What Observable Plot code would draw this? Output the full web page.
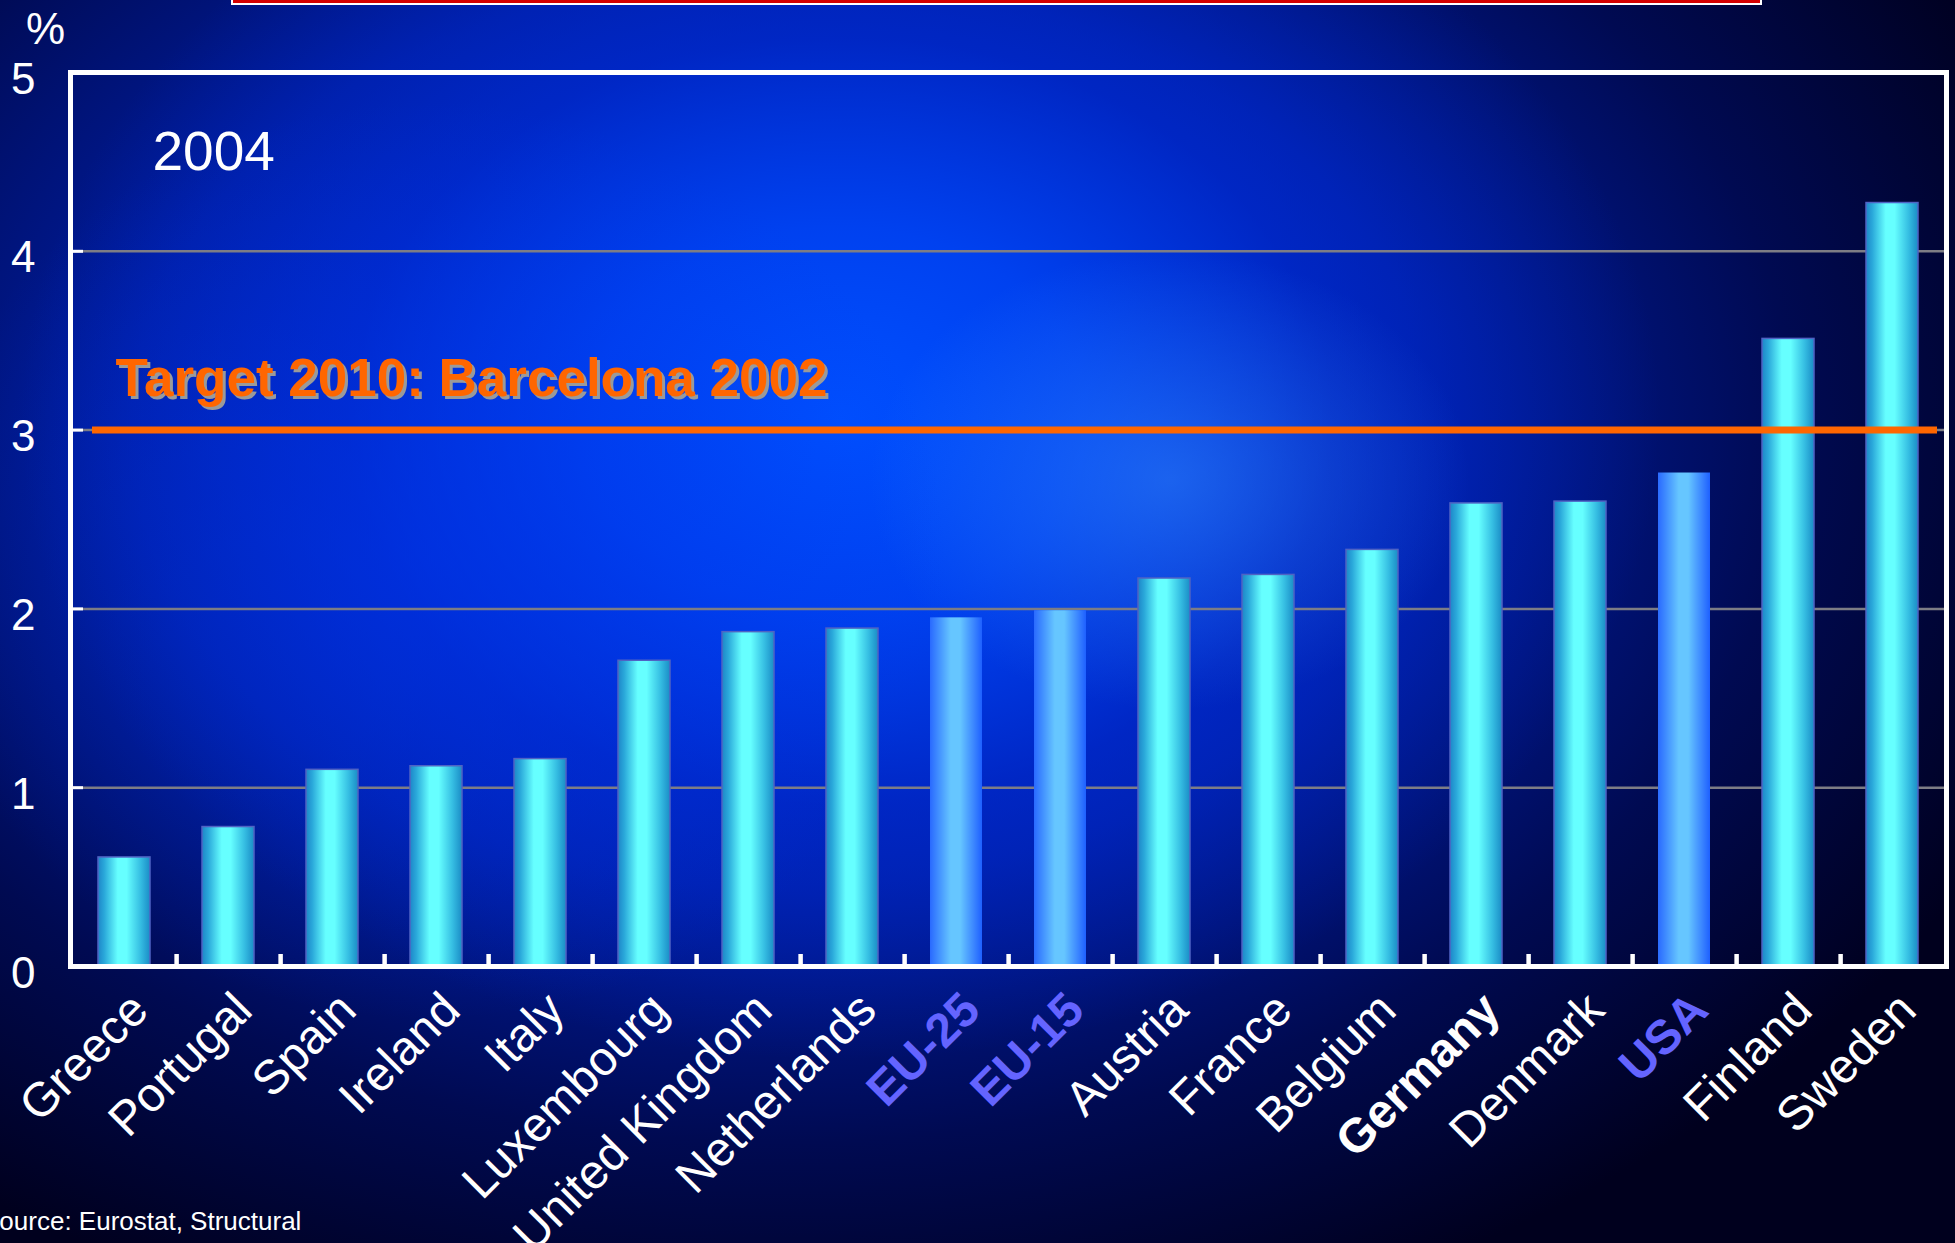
<!DOCTYPE html>
<html>
<head>
<meta charset="utf-8">
<script src="https://cdn.jsdelivr.net/npm/d3@7"></script>
<script src="https://cdn.jsdelivr.net/npm/@observablehq/plot@0.6"></script>
<style>
html, body { margin: 0; padding: 0; width: 1955px; height: 1243px; overflow: hidden; }
body {
  position: relative;
  font-family: "Liberation Sans", Arial, sans-serif;
  background:
    radial-gradient(ellipse 300px 230px at 1170px 480px, rgba(60,150,255,0.45), rgba(60,150,255,0) 100%),
    radial-gradient(ellipse 520px 460px at 430px 560px, rgba(0,52,235,0.55), rgba(0,52,235,0) 100%),
    radial-gradient(ellipse 820px 640px at 840px 420px, rgba(0,80,255,1) 0%, rgba(0,68,245,0.9) 30%, rgba(0,45,220,0.55) 60%, rgba(0,40,200,0) 100%),
    radial-gradient(ellipse 1350px 950px at 780px 430px, #0030d8 0%, #001c9e 48%, #000a52 75%, #00001e 100%);
}
#titlebox { position: absolute; left: 231px; top: -20px; width: 1527px; height: 21px; background: #d40000; border: 2.5px solid #fff; }
#chart { position: absolute; left: 0; top: 0; }
#caption { position: absolute; left: -18px; top: 1206px; font-size: 26px; color: #fff; white-space: nowrap; }
</style>
</head>
<body>
<div id="titlebox"></div>
<div id="chart"></div>
<div id="caption">Source: Eurostat, Structural</div>
<script>
const categories = ["Greece","Portugal","Spain","Ireland","Italy","Luxembourg","United Kingdom","Netherlands","EU-25","EU-15","Austria","France","Belgium","Germany","Denmark","USA","Finland","Sweden"];
const values = [0.61,0.78,1.10,1.12,1.16,1.71,1.87,1.89,1.95,1.99,2.17,2.19,2.33,2.59,2.60,2.76,3.51,4.27];
const aggregates = ["EU-25","EU-15","USA"];
const boldCountries = ["Germany"];
const yTicks = [0,1,2,3,4,5];
const gridValues = [1,2,3,4];
const targetValue = 3;
const targetLabel = "Target 2010: Barcelona 2002";
const yearLabel = "2004";
const unitLabel = "%";

const W = 1955, H = 1243;
const mL = 70, mR = 9, mT = 72, mB = 277;
const step = (W - mL - mR) / categories.length;

const data = categories.map((c, i) => ({country: c, value: values[i], agg: aggregates.includes(c), bold: boldCountries.includes(c)}));

const NS = "http://www.w3.org/2000/svg";
function makeGrad(id, stops) {
  const g = document.createElementNS(NS, "linearGradient");
  g.setAttribute("id", id);
  g.setAttribute("x1", "0"); g.setAttribute("x2", "1"); g.setAttribute("y1", "0"); g.setAttribute("y2", "0");
  for (const [o, c] of stops) {
    const s = document.createElementNS(NS, "stop");
    s.setAttribute("offset", o); s.setAttribute("stop-color", c);
    g.appendChild(s);
  }
  return g;
}
const defs = () => {
  const d = document.createElementNS(NS, "defs");
  d.appendChild(makeGrad("gradCyan", [["0%","#1d86c8"],["12%","#2aa8da"],["38%","#66ffff"],["55%","#66ffff"],["82%","#35bde2"],["100%","#1a8cc6"]]));
  d.appendChild(makeGrad("gradBlue", [["0%","#2a6aff"],["15%","#3f8cff"],["40%","#66c6ff"],["58%","#66c6ff"],["85%","#3a84ff"],["100%","#1e60ff"]]));
  return d;
};

const labelOpts = {x: "country", text: "country", frameAnchor: "bottom", rotate: -45, textAnchor: "end", lineAnchor: "top", dx: 2, dy: 22, fontSize: 48};

const chart = Plot.plot({
  width: W, height: H,
  marginLeft: mL, marginRight: mR, marginTop: mT, marginBottom: mB,
  style: {background: "transparent", color: "white", fontFamily: "'Liberation Sans', Arial, sans-serif", overflow: "visible"},
  x: {domain: categories, paddingInner: 0.5, paddingOuter: 0.25, axis: null},
  y: {domain: [0, 5], axis: null, label: null},
  marks: [
    defs,
    Plot.ruleY(gridValues, {stroke: "#7d7d85", strokeWidth: 2.5}),
    Plot.barY(data.filter(d => !d.agg), {x: "country", y: "value", fill: "url(#gradCyan)", stroke: "#4f63c4", strokeWidth: 1.5}),
    Plot.barY(data.filter(d => d.agg), {x: "country", y: "value", fill: "url(#gradBlue)"}),
    Plot.ruleY([targetValue], {stroke: "#ff6600", strokeWidth: 7, insetLeft: 22, insetRight: 9}),
    Plot.frame({stroke: "white", strokeWidth: 5}),
    Plot.axisY({ticks: gridValues, tickSize: -13, tickFormat: () => "", label: null, stroke: "white", strokeWidth: 3}),
    Plot.axisY({ticks: yTicks, tickSize: 0, tickPadding: 35, tickFormat: d => String(d), fontSize: 44, dy: 7, label: null, fill: "white"}),
    Plot.axisX({ticks: categories.slice(0, -1), tickSize: -12, dx: step / 2, tickFormat: () => "", label: null, stroke: "white", strokeWidth: 4.5}),
    Plot.text(data.filter(d => !d.agg && !d.bold), {...labelOpts, fill: "white"}),
    Plot.text(data.filter(d => d.bold), {...labelOpts, fill: "white", fontWeight: "bold"}),
    Plot.text(data.filter(d => d.agg), {...labelOpts, fill: "#6464ff", fontWeight: "bold"}),
    Plot.text([targetValue], {y: d => d, frameAnchor: "left", text: () => targetLabel, textAnchor: "start", dx: 48, dy: -48, fontSize: 53, fontWeight: "bold", fill: "#9a9a9a"}),
    Plot.text([targetValue], {y: d => d, frameAnchor: "left", text: () => targetLabel, textAnchor: "start", dx: 45, dy: -51, fontSize: 53, fontWeight: "bold", fill: "#ff6600"}),
    Plot.text([yearLabel], {frameAnchor: "top-left", text: d => d, textAnchor: "start", dx: 82, dy: 58, fontSize: 55, fill: "white"}),
    Plot.text([unitLabel], {frameAnchor: "top-left", text: d => d, textAnchor: "middle", dx: -25, dy: -60, fontSize: 44, fill: "white"})
  ]
});
document.getElementById("chart").appendChild(chart);
</script>
</body>
</html>
